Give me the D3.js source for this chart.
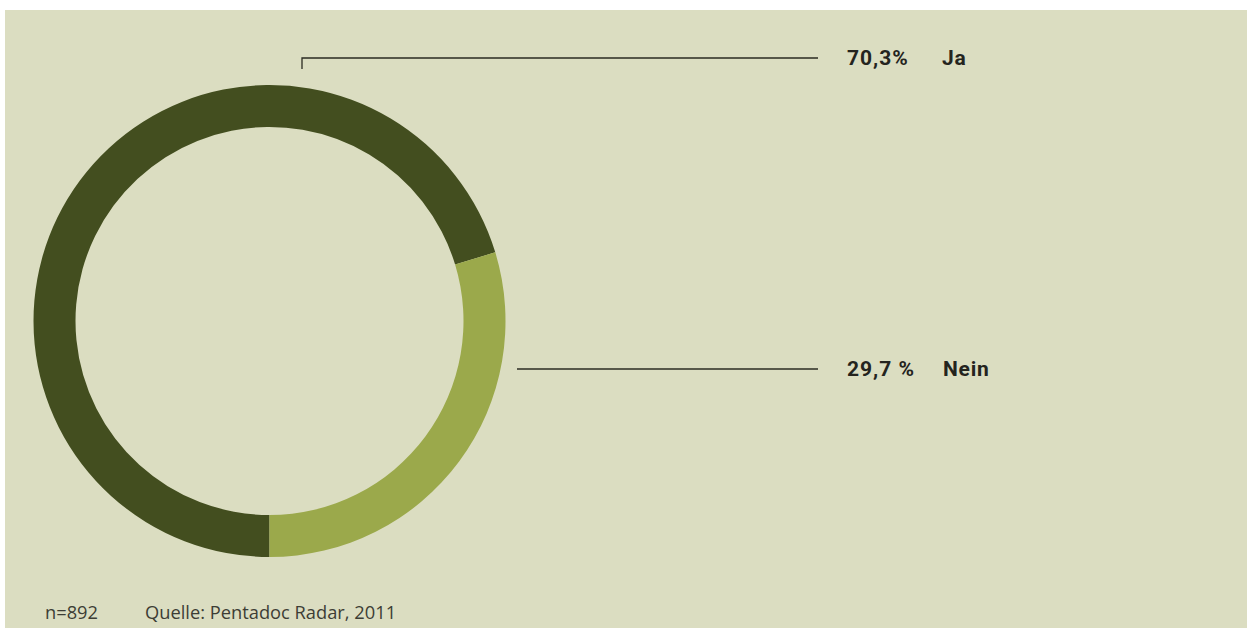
<!DOCTYPE html>
<html>
<head>
<meta charset="utf-8">
<script src="https://cdn.jsdelivr.net/npm/d3@7/dist/d3.min.js"></script>
<style>
  html, body { margin: 0; padding: 0; background: #ffffff; }
  svg { display: block; }
</style>
</head>
<body>
<svg id="chart" width="1247" height="628"></svg>
<script>
// Survey answers (share in percent)
const categories = ["Ja", "Nein"];
const values = [70.3, 29.7];
const valueLabels = ["70,3%", "29,7 %"];
const sampleNote = "n=892";
const sourceNote = "Quelle: Pentadoc Radar, 2011";

const colors = d3.scaleOrdinal().domain(categories).range(["#434e1f", "#9ba94b"]);

const svg = d3.select("#chart");
const W = 1247, H = 628;

// panel background
svg.append("rect")
  .attr("x", 5).attr("y", 10)
  .attr("width", W - 5).attr("height", H - 10)
  .attr("fill", "#dbddc1");

const cx = 269.5, cy = 321;
const outerR = 236, innerR = 194;

// "Ja" starts at 6 o'clock and runs clockwise
const pie = d3.pie().sort(null).value(d => d.v)
  .startAngle(Math.PI).endAngle(3 * Math.PI);
const data = categories.map((c, i) => ({ c, v: values[i], label: valueLabels[i] }));
const arcs = pie(data);

const arc = d3.arc().innerRadius(innerR).outerRadius(outerR);

const g = svg.append("g").attr("transform", `translate(${cx},${cy})`);
g.selectAll("path")
  .data(arcs)
  .join("path")
  .attr("d", arc)
  .attr("fill", d => colors(d.data.c));

// leader lines and labels
const lineEnd = 818;
const nameX = [942, 943];

// Ja: short vertical tick above the ring, then horizontal to the label
const jaY = 58;
svg.append("path")
  .attr("d", `M302,69 V${jaY} H${lineEnd}`)
  .attr("fill", "none").attr("stroke", "#2b2b22").attr("stroke-width", 1.3);

// Nein: horizontal line from the ring's right side
const neinY = 369;
svg.append("line")
  .attr("x1", 517).attr("x2", lineEnd)
  .attr("y1", neinY).attr("y2", neinY)
  .attr("stroke", "#2b2b22").attr("stroke-width", 1.3);

const labelYs = [jaY, neinY];
data.forEach((d, i) => {
  svg.append("text")
    .attr("x", 847).attr("y", labelYs[i] + 7)
    .attr("font-family", "Roboto, 'DejaVu Sans', sans-serif")
    .attr("font-weight", 700).attr("font-size", 21)
    .attr("letter-spacing", 1)
    .attr("fill", "#24241e")
    .text(d.label);
  svg.append("text")
    .attr("x", nameX[i]).attr("y", labelYs[i] + 7)
    .attr("font-family", "Roboto, 'DejaVu Sans', sans-serif")
    .attr("font-weight", 700).attr("font-size", 21)
    .attr("letter-spacing", 0.8)
    .attr("fill", "#24241e")
    .text(d.c);
});

// footer notes
const footFont = "'Open Sans', Roboto, sans-serif";
svg.append("text")
  .attr("x", 45).attr("y", 619)
  .attr("font-family", footFont)
  .attr("font-size", 18.3).attr("fill", "#3d3d35")
  .text(sampleNote);
svg.append("text")
  .attr("x", 145).attr("y", 619)
  .attr("font-family", footFont)
  .attr("font-size", 18.3).attr("fill", "#3d3d35")
  .text(sourceNote);
</script>
</body>
</html>
